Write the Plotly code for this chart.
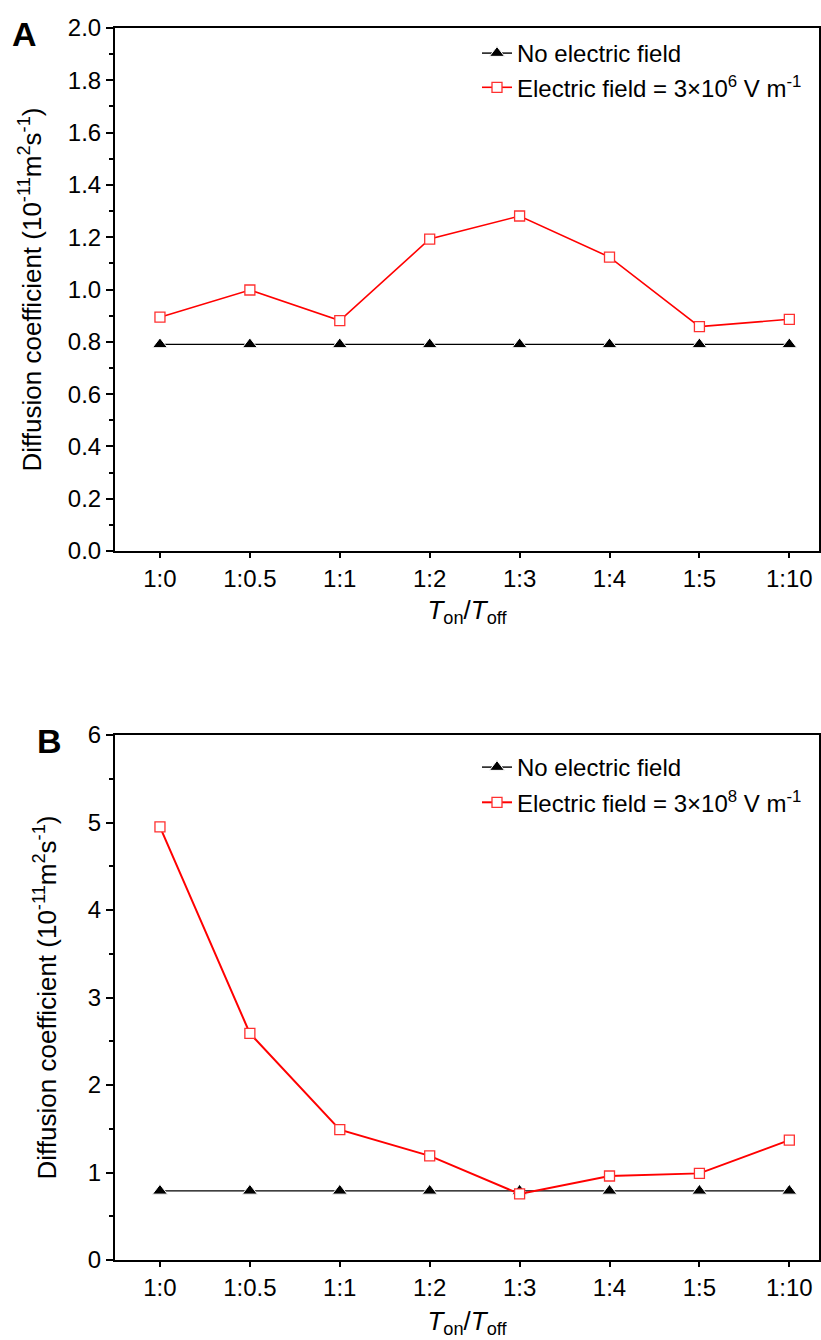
import plotly.graph_objects as go

categories = ["1:0", "1:0.5", "1:1", "1:2", "1:3", "1:4", "1:5", "1:10"]
a_no_field = [0.79, 0.79, 0.79, 0.79, 0.79, 0.79, 0.79, 0.79]
a_field = [0.894, 0.998, 0.881, 1.193, 1.281, 1.124, 0.858, 0.886]
b_no_field = [0.79, 0.79, 0.79, 0.79, 0.79, 0.79, 0.79, 0.79]
b_field = [4.95, 2.59, 1.49, 1.19, 0.755, 0.96, 0.99, 1.37]

a_yticks = [0.0, 0.2, 0.4, 0.6, 0.8, 1.0, 1.2, 1.4, 1.6, 1.8, 2.0]
b_yticks = [0, 1, 2, 3, 4, 5, 6]

FONT = "Liberation Sans, Arial, sans-serif"
W, H = 821, 1340

fig = go.Figure()

def add_panel(no_field, field, xa, ya, legend, field_label, red_w):
    fig.add_trace(go.Scatter(
        x=categories, y=no_field, mode="lines+markers", name="No electric field",
        xaxis=xa, yaxis=ya, legend=legend, legendgroup=legend + "a",
        line=dict(color="black", width=1.4),
        marker=dict(symbol="triangle-up", size=13, color="black",
                    line=dict(color="white", width=1)),
    ))
    fig.add_trace(go.Scatter(
        x=categories, y=field, mode="lines+markers", name=field_label,
        xaxis=xa, yaxis=ya, legend=legend, legendgroup=legend + "b",
        line=dict(color="#ff0000", width=red_w),
        marker=dict(symbol="square", size=10, color="white",
                    line=dict(color="#ff3030", width=1.3)),
    ))

add_panel(a_no_field, a_field, "x", "y", "legend",
          "Electric field = 3×10<sup>6</sup> V m<sup>-1</sup>", 1.6)
add_panel(b_no_field, b_field, "x2", "y2", "legend2",
          "Electric field = 3×10<sup>8</sup> V m<sup>-1</sup>", 2.0)

xdom = [115 / W, 819 / W]
ya_dom = [1 - 551 / H, 1 - 28 / H]
yb_dom = [1 - 1260 / H, 1 - 735 / H]

tickfont = dict(family=FONT, size=24, color="black")
xtitle = "<i>T</i><sub>on</sub>/<i>T</i><sub>off</sub>"
ytitle = "Diffusion coefficient (10<sup>-11</sup>m<sup>2</sup>s<sup>-1</sup>)"

common_x = dict(
    type="category", range=[-0.5, 7.33], showgrid=False, zeroline=False,
    showline=True, linecolor="black", linewidth=2, mirror=True,
    ticks="outside", ticklen=5, tickwidth=1.5, tickcolor="black",
    tickfont=tickfont, automargin=False,
)
common_y = dict(
    showgrid=False, zeroline=False,
    showline=True, linecolor="black", linewidth=2, mirror=True,
    ticks="outside", ticklen=7, tickwidth=2, tickcolor="black",
    tickfont=tickfont, automargin=False,
)

fig.update_layout(
    width=W, height=H,
    margin=dict(l=0, r=0, t=0, b=0),
    paper_bgcolor="white", plot_bgcolor="white",
    font=dict(family=FONT, size=24, color="black"),
    xaxis=dict(domain=xdom, anchor="y", **common_x,
               title=dict(text=xtitle, font=dict(family=FONT, size=26), standoff=10)),
    yaxis=dict(domain=ya_dom, anchor="x", range=[0, 2.0], tickvals=a_yticks,
               ticktext=[f"{v:.1f}" for v in a_yticks],
               minor=dict(dtick=0.1, ticks="outside", ticklen=4, tickcolor="black", tickwidth=1.5),
               **common_y,
               title=dict(text=ytitle, font=dict(family=FONT, size=26), standoff=19)),
    xaxis2=dict(domain=xdom, anchor="y2", **common_x,
                title=dict(text=xtitle, font=dict(family=FONT, size=26), standoff=12)),
    yaxis2=dict(domain=yb_dom, anchor="x2", range=[0, 6], tickvals=b_yticks,
                minor=dict(dtick=0.5, ticks="outside", ticklen=4, tickcolor="black", tickwidth=1.5),
                **common_y,
                title=dict(text=ytitle, font=dict(family=FONT, size=26), standoff=24)),
    legend=dict(x=477 / W, y=1 - 31 / H, xanchor="left", yanchor="top",
                bgcolor="rgba(0,0,0,0)", font=dict(family=FONT, size=24),
                traceorder="grouped", tracegroupgap=0),
    legend2=dict(x=477 / W, y=1 - 745 / H, xanchor="left", yanchor="top",
                 bgcolor="rgba(0,0,0,0)", font=dict(family=FONT, size=24),
                 traceorder="grouped", tracegroupgap=1),
    annotations=[
        dict(text="<b>A</b>", x=10 / W, y=1 - 34 / H, xref="paper", yref="paper",
             xanchor="left", yanchor="middle", showarrow=False,
             font=dict(family=FONT, size=34, color="black")),
        dict(text="<b>B</b>", x=35 / W, y=1 - 741 / H, xref="paper", yref="paper",
             xanchor="left", yanchor="middle", showarrow=False,
             font=dict(family=FONT, size=34, color="black")),
    ],
)

fig.write_html("out.html")
